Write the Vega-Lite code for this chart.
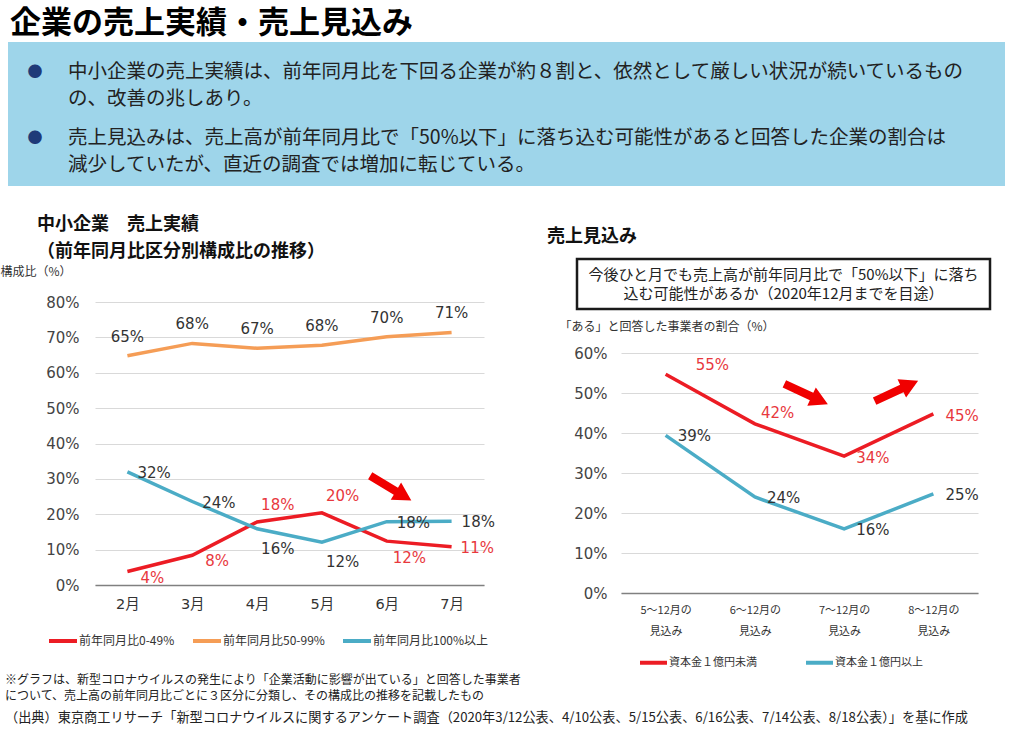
{
  "$schema": "https://vega.github.io/schema/vega-lite/v6.json",
  "padding": {"left": 0, "top": 8, "right": 0, "bottom": 0},
  "background": "white",
  "config": {
    "font": "Noto Sans CJK JP",
    "view": {"stroke": null},
    "axis": {"labelFont": "DejaVu Sans, Noto Sans CJK JP", "titleFont": "Noto Sans CJK JP"},
    "legend": {"labelFont": "Noto Sans CJK JP"}
  },
  "title": {"text": "企業の売上実績・売上見込み", "anchor": "start", "dx": 10, "fontSize": 31, "fontWeight": "bold", "color": "#000", "offset": 2},
  "spacing": 30,
  "vconcat": [
    {
      "width": 910,
      "height": 144,
      "data": {"values": [
        {"para": 1, "bullet": "●", "text": "中小企業の売上実績は、前年同月比を下回る企業が約８割と、依然として厳しい状況が続いているもの\nの、改善の兆しあり。"},
        {"para": 2, "bullet": "●", "text": "売上見込みは、売上高が前年同月比で「50%以下」に落ち込む可能性があると回答した企業の割合は\n減少していたが、直近の調査では増加に転じている。"}
      ]},
      "resolve": {"scale": {"y": "independent"}},
      "layer": [
        {
          "mark": {"type": "rect", "fill": "#9ed5ea", "strokeWidth": 0},
          "encoding": {
            "x": {"datum": -87, "type": "quantitative", "scale": {"domain": [0, 910], "nice": false, "zero": false}, "axis": null},
            "x2": {"datum": 910},
            "y": {"datum": 0, "type": "quantitative", "scale": {"domain": [0, 1], "nice": false}, "axis": null},
            "y2": {"datum": 1}
          }
        },
        {
          "mark": {"type": "text", "align": "center", "baseline": "middle", "fontSize": 15, "dy": -9, "color": "#1f3a78"},
          "encoding": {
            "x": {"datum": -60, "type": "quantitative", "scale": {"domain": [0, 910], "nice": false, "zero": false}, "axis": null},
            "y": {"field": "para", "type": "ordinal", "scale": {"type": "point", "padding": 0.6}, "axis": null},
            "text": {"field": "bullet"}
          }
        },
        {
          "mark": {"type": "text", "align": "left", "baseline": "middle", "fontSize": 19.5, "lineBreak": "\n", "lineHeight": 27, "dy": -9, "color": "#222"},
          "encoding": {
            "x": {"datum": -27, "type": "quantitative", "scale": {"domain": [0, 910], "nice": false, "zero": false}, "axis": null},
            "y": {"field": "para", "type": "ordinal", "scale": {"type": "point", "padding": 0.6}, "axis": null},
            "text": {"field": "text"}
          }
        }
      ]
    },
    {
      "spacing": 0,
      "vconcat": [
        {
          "spacing": 52,
          "resolve": {"scale": {"color": "independent"}, "legend": {"color": "independent"}},
          "hconcat": [
            {
              "width": 389,
              "height": 283,
              "title": {"text": ["中小企業　売上実績", "（前年同月比区分別構成比の推移）"], "anchor": "start", "frame": "group", "dx": -58, "fontSize": 18, "fontWeight": "bold", "lineHeight": 27, "color": "#111", "offset": 4},
              "data": {"values": [
                {"month": "2月", "series": "前年同月比0-49%", "value": 0.038},
                {"month": "3月", "series": "前年同月比0-49%", "value": 0.084},
                {"month": "4月", "series": "前年同月比0-49%", "value": 0.178},
                {"month": "5月", "series": "前年同月比0-49%", "value": 0.204},
                {"month": "6月", "series": "前年同月比0-49%", "value": 0.124},
                {"month": "7月", "series": "前年同月比0-49%", "value": 0.108},
                {"month": "2月", "series": "前年同月比50-99%", "value": 0.648},
                {"month": "3月", "series": "前年同月比50-99%", "value": 0.683},
                {"month": "4月", "series": "前年同月比50-99%", "value": 0.669},
                {"month": "5月", "series": "前年同月比50-99%", "value": 0.678},
                {"month": "6月", "series": "前年同月比50-99%", "value": 0.702},
                {"month": "7月", "series": "前年同月比50-99%", "value": 0.714},
                {"month": "2月", "series": "前年同月比100%以上", "value": 0.32},
                {"month": "3月", "series": "前年同月比100%以上", "value": 0.236},
                {"month": "4月", "series": "前年同月比100%以上", "value": 0.159},
                {"month": "5月", "series": "前年同月比100%以上", "value": 0.121},
                {"month": "6月", "series": "前年同月比100%以上", "value": 0.179},
                {"month": "7月", "series": "前年同月比100%以上", "value": 0.18}
              ]},
              "encoding": {
                "x": {"field": "month", "type": "ordinal", "sort": ["2月", "3月", "4月", "5月", "6月", "7月"], "scale": {"type": "point", "padding": 0.5},
                  "axis": {"title": null, "labelAngle": 0, "labelFontSize": 14.5, "labelColor": "#333", "labelPadding": 12, "ticks": false, "domainColor": "#808080", "domainWidth": 1.5, "grid": false}},
                "y": {"field": "value", "type": "quantitative", "scale": {"domain": [0, 0.8], "nice": false},
                  "axis": {"title": "構成比（%）", "titleAngle": 0, "titleAlign": "left", "titleBaseline": "middle", "titleX": -95, "titleY": -31, "titleFontSize": 12, "titleFontWeight": "normal", "titleColor": "#333", "format": ".0%", "values": [0, 0.1, 0.2, 0.3, 0.4, 0.5, 0.6, 0.7, 0.8], "labelFontSize": 15, "labelColor": "#444", "labelPadding": 16, "ticks": false, "domain": false, "gridColor": "#d9d9d9"}}
              },
              "layer": [
                {
                  "mark": {"type": "line", "strokeWidth": 3.5},
                  "encoding": {
                    "color": {"field": "series", "type": "nominal",
                      "scale": {"domain": ["前年同月比0-49%", "前年同月比50-99%", "前年同月比100%以上"], "range": ["#ec1c24", "#f59d56", "#4bacc6"]},
                      "legend": {"title": null, "orient": "none", "legendX": -48, "legendY": 323, "direction": "horizontal", "symbolType": "stroke", "symbolStrokeWidth": 4, "symbolSize": 784, "labelFontSize": 12, "labelColor": "#333", "labelOffset": 0, "columnPadding": 10, "labelLimit": 300}}
                  }
                },
                {
                  "transform": [{"filter": {"field": "series", "equal": "前年同月比50-99%"}}],
                  "mark": {"type": "text", "align": "center", "baseline": "middle", "dy": -19, "fontSize": 15, "font": "DejaVu Sans", "color": "#333"},
                  "encoding": {"text": {"field": "value", "type": "quantitative", "format": ".0%"}}
                },
                {
                  "transform": [{"filter": {"and": [{"field": "series", "equal": "前年同月比100%以上"}, {"field": "month", "oneOf": ["2月", "3月", "6月", "7月"]}]}}],
                  "mark": {"type": "text", "align": "left", "baseline": "middle", "dx": 10, "dy": 1, "fontSize": 15, "font": "DejaVu Sans", "color": "#333"},
                  "encoding": {"text": {"field": "value", "type": "quantitative", "format": ".0%"}}
                },
                {
                  "transform": [{"filter": {"and": [{"field": "series", "equal": "前年同月比100%以上"}, {"field": "month", "oneOf": ["4月", "5月"]}]}}],
                  "mark": {"type": "text", "align": "left", "baseline": "middle", "dx": 4, "dy": 20, "fontSize": 15, "font": "DejaVu Sans", "color": "#333"},
                  "encoding": {"text": {"field": "value", "type": "quantitative", "format": ".0%"}}
                },
                {
                  "transform": [{"filter": {"and": [{"field": "series", "equal": "前年同月比0-49%"}, {"field": "month", "oneOf": ["4月", "5月"]}]}}],
                  "mark": {"type": "text", "align": "left", "baseline": "middle", "dx": 4, "dy": -17, "fontSize": 15, "font": "DejaVu Sans", "color": "#e8383d"},
                  "encoding": {"text": {"field": "value", "type": "quantitative", "format": ".0%"}}
                },
                {
                  "transform": [{"filter": {"and": [{"field": "series", "equal": "前年同月比0-49%"}, {"field": "month", "oneOf": ["2月", "3月"]}]}}],
                  "mark": {"type": "text", "align": "left", "baseline": "middle", "dx": 13, "dy": 6, "fontSize": 15, "font": "DejaVu Sans", "color": "#e8383d"},
                  "encoding": {"text": {"field": "value", "type": "quantitative", "format": ".0%"}}
                },
                {
                  "transform": [{"filter": {"and": [{"field": "series", "equal": "前年同月比0-49%"}, {"field": "month", "equal": "6月"}]}}],
                  "mark": {"type": "text", "align": "left", "baseline": "middle", "dx": 6, "dy": 17, "fontSize": 15, "font": "DejaVu Sans", "color": "#e8383d"},
                  "encoding": {"text": {"field": "value", "type": "quantitative", "format": ".0%"}}
                },
                {
                  "transform": [{"filter": {"and": [{"field": "series", "equal": "前年同月比0-49%"}, {"field": "month", "equal": "7月"}]}}],
                  "mark": {"type": "text", "align": "left", "baseline": "middle", "dx": 9, "dy": 1, "fontSize": 15, "font": "DejaVu Sans", "color": "#e8383d"},
                  "encoding": {"text": {"field": "value", "type": "quantitative", "format": ".0%"}}
                },
                {
                  "data": {"values": [{"month": "6月", "value": 0.274}]},
                  "mark": {"type": "point", "shape": "M-1,-0.17L0.25,-0.17L0.25,-0.42L1,0L0.25,0.42L0.25,0.17L-1,0.17Z", "filled": true, "color": "#f00000", "opacity": 1, "strokeWidth": 0, "size": 2304, "angle": 31, "xOffset": 4}
                }
              ]
            },
            {
              "title": {"text": "売上見込み", "anchor": "start", "frame": "group", "dx": -74, "fontSize": 18, "fontWeight": "bold", "color": "#111", "offset": 12},
              "bounds": "flush",
              "spacing": 44,
              "vconcat": [
                {
                  "width": 369,
                  "height": 7,
                  "data": {"values": [{"q": "今後ひと月でも売上高が前年同月比で「50%以下」に落ち\n込む可能性があるか（2020年12月までを目途）"}]},
                  "layer": [
                    {
                      "mark": {"type": "rect", "fill": "white", "stroke": "#1a1a1a", "strokeWidth": 2.5},
                      "encoding": {
                        "x": {"datum": -44, "type": "quantitative", "scale": {"domain": [0, 369], "nice": false, "zero": false}, "axis": null},
                        "x2": {"datum": 369},
                        "y": {"datum": 0, "type": "quantitative", "scale": {"domain": [0, 7], "nice": false, "zero": false}, "axis": null},
                        "y2": {"datum": 50}
                      }
                    },
                    {
                      "mark": {"type": "text", "align": "center", "baseline": "middle", "fontSize": 15, "lineBreak": "\n", "lineHeight": 19, "color": "#222"},
                      "encoding": {
                        "x": {"datum": 162.5, "type": "quantitative"},
                        "y": {"datum": 34, "type": "quantitative"},
                        "text": {"field": "q"}
                      }
                    }
                  ]
                },
                {
                  "width": 357,
                  "height": 240,
                  "data": {"values": [
                    {"period": "5～12月の見込み", "series": "資本金１億円未満", "value": 0.547},
                    {"period": "6～12月の見込み", "series": "資本金１億円未満", "value": 0.423},
                    {"period": "7～12月の見込み", "series": "資本金１億円未満", "value": 0.342},
                    {"period": "8～12月の見込み", "series": "資本金１億円未満", "value": 0.448},
                    {"period": "5～12月の見込み", "series": "資本金１億円以上", "value": 0.394},
                    {"period": "6～12月の見込み", "series": "資本金１億円以上", "value": 0.24},
                    {"period": "7～12月の見込み", "series": "資本金１億円以上", "value": 0.16},
                    {"period": "8～12月の見込み", "series": "資本金１億円以上", "value": 0.248}
                  ]},
                  "encoding": {
                    "x": {"field": "period", "type": "ordinal", "sort": ["5～12月の見込み", "6～12月の見込み", "7～12月の見込み", "8～12月の見込み"], "scale": {"type": "point", "padding": 0.5},
                      "axis": {"title": null, "labelAngle": 0, "labelExpr": "[replace(datum.label, '見込み', ''), '見込み']", "labelFont": "Noto Sans CJK JP", "labelFontSize": 11, "labelLineHeight": 21, "labelPadding": 11, "labelColor": "#333", "ticks": false, "domainColor": "#808080", "domainWidth": 1.5, "grid": false}},
                    "y": {"field": "value", "type": "quantitative", "scale": {"domain": [0, 0.6], "nice": false},
                      "axis": {"title": "「ある」と回答した事業者の割合（%）", "titleAngle": 0, "titleAlign": "left", "titleBaseline": "middle", "titleX": -62, "titleY": -27, "titleFontSize": 12, "titleFontWeight": "normal", "titleColor": "#333", "format": ".0%", "values": [0, 0.1, 0.2, 0.3, 0.4, 0.5, 0.6], "labelFontSize": 15, "labelColor": "#444", "labelPadding": 14, "ticks": false, "domain": false, "gridColor": "#d9d9d9"}}
                  },
                  "layer": [
                    {
                      "mark": {"type": "line", "strokeWidth": 3.5},
                      "encoding": {
                        "color": {"field": "series", "type": "nominal",
                          "scale": {"domain": ["資本金１億円未満", "資本金１億円以上"], "range": ["#ec1c24", "#4bacc6"]},
                          "legend": {"title": null, "orient": "none", "legendX": 17, "legendY": 345, "direction": "horizontal", "symbolType": "stroke", "symbolStrokeWidth": 4, "symbolSize": 729, "labelFontSize": 11, "labelColor": "#333", "labelOffset": 0, "columnPadding": 41, "labelLimit": 300}}
                      }
                    },
                    {
                      "transform": [{"filter": {"field": "series", "equal": "資本金１億円以上"}}],
                      "mark": {"type": "text", "align": "left", "baseline": "middle", "dx": 12, "dy": 1, "fontSize": 15, "font": "DejaVu Sans", "color": "#333"},
                      "encoding": {"text": {"field": "value", "type": "quantitative", "format": ".0%"}}
                    },
                    {
                      "transform": [{"filter": {"and": [{"field": "series", "equal": "資本金１億円未満"}, {"field": "period", "equal": "5～12月の見込み"}]}}],
                      "mark": {"type": "text", "align": "left", "baseline": "middle", "dx": 30, "dy": -9, "fontSize": 15, "font": "DejaVu Sans", "color": "#e8383d"},
                      "encoding": {"text": {"field": "value", "type": "quantitative", "format": ".0%"}}
                    },
                    {
                      "transform": [{"filter": {"and": [{"field": "series", "equal": "資本金１億円未満"}, {"field": "period", "equal": "6～12月の見込み"}]}}],
                      "mark": {"type": "text", "align": "left", "baseline": "middle", "dx": 6, "dy": -11, "fontSize": 15, "font": "DejaVu Sans", "color": "#e8383d"},
                      "encoding": {"text": {"field": "value", "type": "quantitative", "format": ".0%"}}
                    },
                    {
                      "transform": [{"filter": {"and": [{"field": "series", "equal": "資本金１億円未満"}, {"field": "period", "oneOf": ["7～12月の見込み", "8～12月の見込み"]}]}}],
                      "mark": {"type": "text", "align": "left", "baseline": "middle", "dx": 12, "dy": 2, "fontSize": 15, "font": "DejaVu Sans", "color": "#e8383d"},
                      "encoding": {"text": {"field": "value", "type": "quantitative", "format": ".0%"}}
                    },
                    {
                      "data": {"values": [{"period": "7～12月の見込み", "value": 0.4975}]},
                      "mark": {"type": "point", "shape": "M-1,-0.17L0.25,-0.17L0.25,-0.42L1,0L0.25,0.42L0.25,0.17L-1,0.17Z", "filled": true, "color": "#f00000", "opacity": 1, "strokeWidth": 0, "size": 2304, "angle": 25, "xOffset": -38}
                    },
                    {
                      "data": {"values": [{"period": "8～12月の見込み", "value": 0.505}]},
                      "mark": {"type": "point", "shape": "M-1,-0.17L0.25,-0.17L0.25,-0.42L1,0L0.25,0.42L0.25,0.17L-1,0.17Z", "filled": true, "color": "#f00000", "opacity": 1, "strokeWidth": 0, "size": 2304, "angle": -25, "xOffset": -37}
                    }
                  ]
                }
              ]
            }
          ]
        },
        {
          "width": 910,
          "height": 50,
          "data": {"values": [
            {"row": 1, "note": "※グラフは、新型コロナウイルスの発生により「企業活動に影響が出ている」と回答した事業者\nについて、売上高の前年同月比ごとに３区分に分類し、その構成比の推移を記載したもの"},
            {"row": 2, "note": "（出典）東京商工リサーチ「新型コロナウイルスに関するアンケート調査（2020年3/12公表、4/10公表、5/15公表、6/16公表、7/14公表、8/18公表）」を基に作成"}
          ]},
          "encoding": {
            "x": {"datum": -90, "type": "quantitative", "scale": {"domain": [0, 910], "nice": false, "zero": false}, "axis": null},
            "y": {"field": "row", "type": "quantitative", "scale": {"domain": [0.76, 2.08], "reverse": true, "nice": false, "zero": false}, "axis": null},
            "text": {"field": "note"}
          },
          "layer": [
            {
              "transform": [{"filter": {"field": "row", "equal": 1}}],
              "mark": {"type": "text", "align": "left", "baseline": "middle", "fontSize": 12, "lineBreak": "\n", "lineHeight": 16, "color": "#222"}
            },
            {
              "transform": [{"filter": {"field": "row", "equal": 2}}],
              "mark": {"type": "text", "align": "left", "baseline": "middle", "fontSize": 13.2, "color": "#222"}
            }
          ]
        }
      ]
    }
  ]
}
